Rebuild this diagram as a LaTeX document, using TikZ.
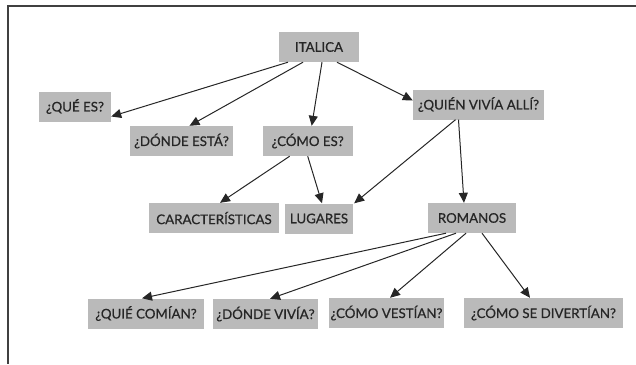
\documentclass[tikz,border=0pt]{standalone}
\usepackage{fontspec}
\setmainfont{Lato}
\usetikzlibrary{arrows.meta}
\begin{document}
\begin{tikzpicture}[x=1pt,y=-1pt,
	caja/.style={fill=black!27, text=black!85, minimum height=30pt, inner sep=0pt, font=\fontsize{13.3}{15}\selectfont\addfontfeature{FakeBold=0.6}},
	flecha/.style={-{Triangle[length=10pt,width=9pt]}, line width=1pt, color=black!85}]
			\useasboundingbox (0,0) rectangle (636,364);
			% marco
			\draw [line width=2pt, color=black!75](636,6)--(7.5,6)--(7.5,364);
			
			\node [caja, minimum width=80pt] (italica) at (319,47) {ITALICA};
			\node [caja, minimum width=72pt] (quees) at (75,106.5) {¿QUÉ ES?};
			\node [caja, minimum width=103pt] (donde) at (181.5,141) {¿DÓNDE ESTÁ?};
			\node [caja, minimum width=90pt] (como) at (307.7,141) {¿CÓMO ES?};
			\node [caja, minimum width=131pt] (quien) at (478.5,104.5) {¿QUIÉN VIVÍA ALLÍ?};
			
			\node [caja, minimum width=130pt] (caract) at (214,218) {CARACTERÍSTICAS};
			\node [caja, minimum width=68pt] (lugares) at (319,218.5) {LUGARES};
			\node [caja, minimum width=88pt] (romanos) at (472,218) {ROMANOS};
			
			\node [caja, minimum width=116pt] (comian) at (146,313.5) {¿QUIÉ COMÍAN?};
			\node [caja, minimum width=105pt] (vivia) at (265.5,314) {¿DÓNDE VIVÍA?};
			\node [caja, minimum width=115pt] (vestian) at (386.5,313) {¿CÓMO VESTÍAN?};
			\node [caja, minimum width=159pt] (divertian) at (543.5,313) {¿CÓMO SE DIVERTÍAN?};
			
			\draw [flecha]([xshift=-31]italica.south)--([yshift=-10]quees.east);
			\draw [flecha]([xshift=-16]italica.south)--([xshift=8]donde.north);
			\draw [flecha]([xshift=3]italica.south)--([xshift=4]como.north);
			\draw [flecha]([xshift=18]italica.south)--([yshift=4]quien.west);
			
			\draw [flecha]([xshift=-18]como.south)--([xshift=6]caract.north);
			\draw [flecha](como.south)--([xshift=3]lugares.north);
			\draw [flecha]([xshift=-23]quien.south)--([xshift=1]lugares.north east);
			\draw [flecha]([xshift=-20]quien.south)--([xshift=-8]romanos.north);
			
			\draw [flecha]([xshift=-26]romanos.south)--([xshift=-4]comian.north);
			\draw [flecha]([xshift=-16]romanos.south)--([xshift=4.5]vivia.north);
			\draw [flecha]([xshift=-6]romanos.south)--([xshift=3.5]vestian.north);
			\draw [flecha]([xshift=10]romanos.south)--([xshift=-13.5]divertian.north);
			
		\end{tikzpicture}
\end{document}
